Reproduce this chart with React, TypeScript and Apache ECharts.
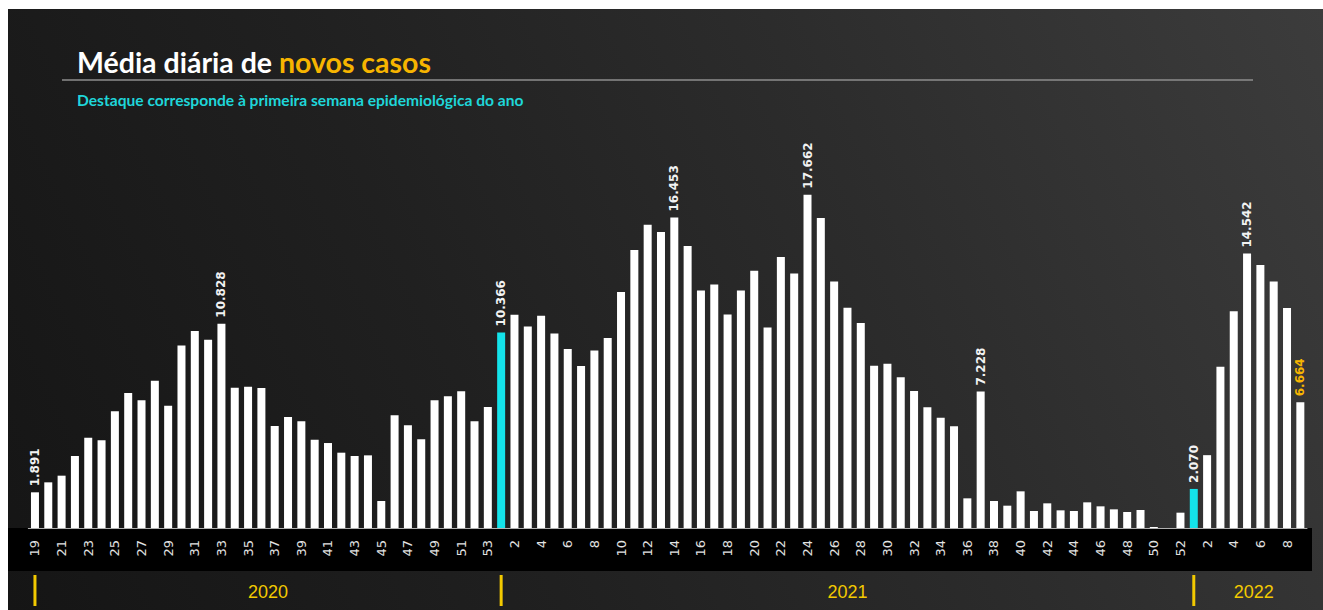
import React, { useEffect, useRef } from "react";
import * as echarts from "echarts";

// Daily average of new cases by epidemiological week
const weekStart2020 = 19;
const values2020 = [
  1891, 2420, 2773, 3815, 4786, 4645, 6181, 7152, 6764, 7806, 6481, 9678, 10437, 9978, 10828,
  7435, 7488, 7417, 5404, 5881, 5651, 4680, 4503, 3991, 3815, 3850, 1430, 5969, 5439, 4698,
  6764, 6976, 7241, 5651, 6411,
];
const values2021 = [
  10366, 11302, 10684, 11249, 10313, 9483, 8583, 9413, 10066, 12503,
  14728, 16071, 15682, 16453, 14940, 12591, 12909, 11320, 12591, 13633,
  10631, 14358, 13492, 17662, 16424, 13068, 11673, 10861, 8600, 8706,
  7990, 7258, 6400, 5845, 5386, 1572, 7228, 1430, 1183, 1943,
  900, 1307, 936, 900, 1360, 1148, 989, 848, 954, 53,
  0, 812,
];
const values2022 = [2070, 3860, 8540, 11480, 14542, 13940, 13060, 11660, 6664];
const years = ["2020", "2021", "2022"];
const labeledWeeks = ["2020-19", "2020-33", "2021-1", "2021-14", "2021-24", "2021-37", "2022-1", "2022-5", "2022-9"];
const lastWeekKey = "2022-9";

const TITLE_WHITE = "Média diária de ";
const TITLE_ORANGE = "novos casos";
const SUBTITLE = "Destaque corresponde à primeira semana epidemiológica do ano";

const CYAN = "#14e3ea";
const ORANGE = "#f7b500";
const YELLOW = "#f2c900";

function fmt(v: number): string {
  const s = String(Math.round(v));
  return s.replace(/\B(?=(\d{3})+(?!\d))/g, ".");
}

export default function App() {
  const ref = useRef<HTMLDivElement>(null);
  useEffect(() => {
    if (!ref.current) return;
    const chart = echarts.init(ref.current, undefined, { renderer: "svg" });

    const entries: { year: string; week: number; value: number }[] = [];
    values2020.forEach((v, i) => entries.push({ year: years[0], week: weekStart2020 + i, value: v }));
    values2021.forEach((v, i) => entries.push({ year: years[1], week: 1 + i, value: v }));
    values2022.forEach((v, i) => entries.push({ year: years[2], week: 1 + i, value: v }));

    const categories = entries.map((e) => String(e.week));
    const data = entries.map((e) => {
      const key = `${e.year}-${e.week}`;
      const item: any = {
        value: e.value,
        itemStyle: { color: e.week === 1 ? CYAN : "#ffffff" },
      };
      if (labeledWeeks.includes(key)) {
        item.label = {
          show: true,
          color: key === lastWeekKey ? ORANGE : "#f2f2f2",
        };
      }
      return item;
    });

    const gridTop = 141.6;
    const gridBottom = 82;

    chart.setOption({
      animation: false,
      backgroundColor: "transparent",
      title: [
        {
          text: `{w|${TITLE_WHITE}}{o|${TITLE_ORANGE}}`,
          left: 64,
          top: 33,
          textStyle: {
            rich: {
              w: { fontFamily: "Lato", fontWeight: "bold", fontSize: 28.5, color: "#ffffff" },
              o: { fontFamily: "Lato", fontWeight: "bold", fontSize: 28.5, color: ORANGE },
            },
          },
        },
        {
          text: SUBTITLE,
          left: 64,
          top: 78,
          textStyle: { fontFamily: "Lato", fontWeight: "bold", fontSize: 15.6, color: "#1fd6d9" },
        },
      ],
      grid: { left: 20.3, right: 16, top: gridTop, bottom: gridBottom, containLabel: false },
      xAxis: {
        type: "category",
        data: categories,
        axisLine: { show: true, lineStyle: { color: "#b0b0b0", width: 1 } },
        axisTick: { show: false },
        axisLabel: {
          interval: 1,
          rotate: 90,
          margin: 12,
          color: "#e2e2e2",
          fontFamily: "DejaVu Sans",
          fontSize: 13,
        },
      },
      yAxis: { type: "value", min: 0, max: 20000, show: false, splitLine: { show: false } },
      series: [
        {
          type: "bar",
          data,
          barWidth: 8,
          label: {
            show: false,
            position: "top",
            rotate: 90,
            align: "left",
            verticalAlign: "middle",
            distance: 6,
            fontFamily: "DejaVu Sans",
            fontWeight: "bold",
            fontSize: 12,
            formatter: (p: any) => fmt(p.value),
          },
        },
      ],
    });

    // Year markers and labels, placed from the category axis
    const xAt = (i: number) => chart.convertToPixel({ xAxisIndex: 0 }, i) as number;
    const starts = [0, values2020.length, values2020.length + values2021.length];
    const step = xAt(1) - xAt(0);
    const ends = [starts[1], starts[2], entries.length];
    const graphics: any[] = [
      {
        type: "line",
        shape: { x1: 54, y1: 71, x2: 1245, y2: 71 },
        style: { stroke: "#8e8e8e", lineWidth: 1.5 },
      },
    ];
    years.forEach((y, k) => {
      const xs = xAt(starts[k]);
      const xe = k < 2 ? xAt(ends[k]) : xAt(ends[k] - 1) + step;
      graphics.push({
        type: "rect",
        shape: { x: xs - 1.5, y: 566, width: 3, height: 31 },
        style: { fill: YELLOW },
      });
      graphics.push({
        type: "text",
        x: (xs + xe) / 2,
        y: 583,
        style: {
          text: y,
          fill: YELLOW,
          font: "18px 'Liberation Sans'",
          textAlign: "center",
          textVerticalAlign: "middle",
        },
      });
    });
    chart.setOption({ graphic: graphics });

    return () => chart.dispose();
  }, []);

  return (
    <div
      style={{
        position: "absolute",
        left: 8,
        top: 9,
        width: 1315,
        height: 601,
        overflow: "hidden",
        background: "linear-gradient(245deg, #3c3c3c 0%, #2c2c2c 35%, #202020 65%, #151515 100%)",
      }}
    >
      <div
        style={{ position: "absolute", left: 0, top: 519, width: 1304, height: 43, background: "#000000" }}
      />
      <div ref={ref} style={{ position: "absolute", left: 0, top: 0, width: 1315, height: 601 }} />
    </div>
  );
}
